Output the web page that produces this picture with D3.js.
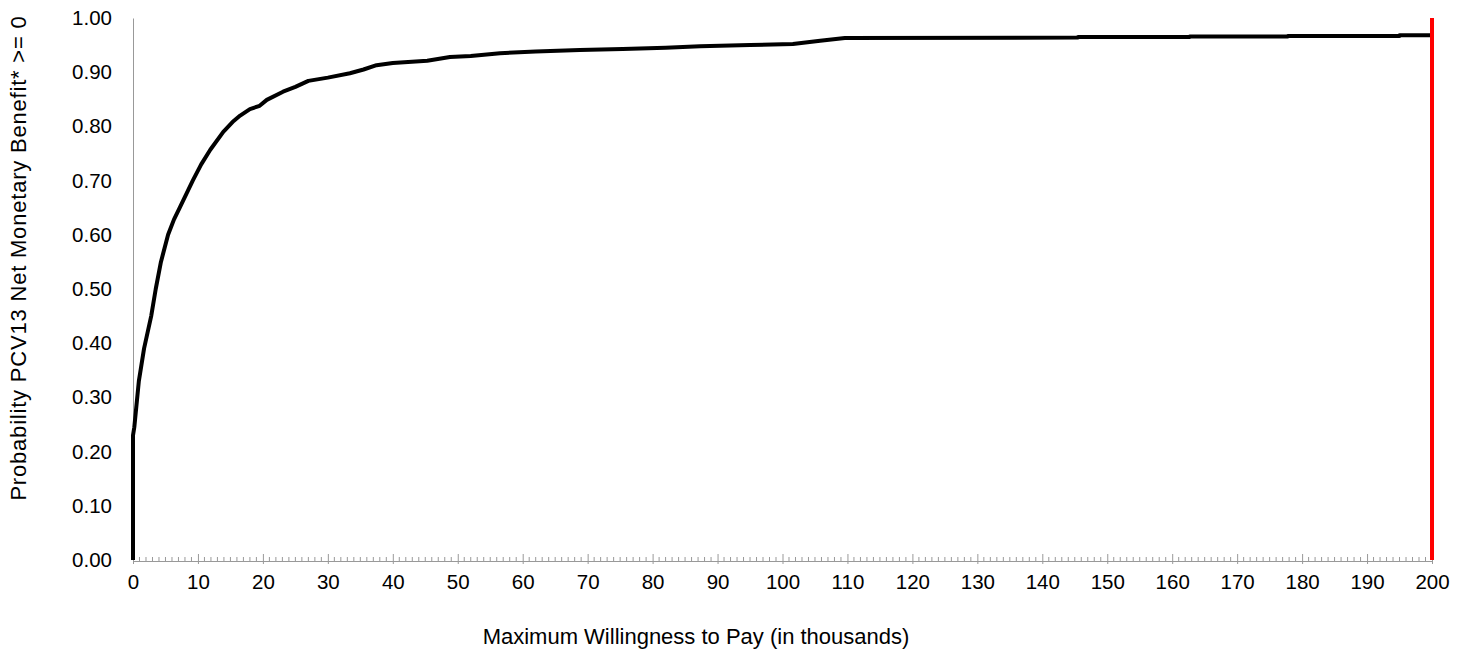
<!DOCTYPE html>
<html>
<head>
<meta charset="utf-8">
<script src="https://cdn.jsdelivr.net/npm/d3@7"></script>
<style>
  body { margin: 0; background: #fff; }
  svg text { font-family: "Liberation Sans", Arial, sans-serif; fill: #000; }
</style>
</head>
<body>
<div id="chart"></div>
<script>
// willingness to pay (thousands) and probability that net monetary benefit >= 0
const wtp = [0, 0, 0.2, 0.9, 1.7, 2.8, 3.5, 4.3, 5.4, 6.3, 7.2, 8.2, 9.2, 10.5, 11.9, 13.9, 15.5, 16.5, 18,
  19.5, 20.6, 23.1, 25, 27, 30, 33.4, 35.5, 37.5, 40, 45.3, 48.8, 52, 56.5, 62, 68.8, 75.4, 82, 87.3,
  95, 101.6, 105.8, 109.6, 145.5, 145.5, 162.7, 162.7, 177.8, 177.8, 195, 195, 200];
const prob = [0, 0.23, 0.245, 0.33, 0.39, 0.45, 0.50, 0.55, 0.60, 0.628, 0.65, 0.675, 0.70, 0.73, 0.757, 0.79, 0.81, 0.82, 0.832,
  0.838, 0.849, 0.864, 0.873, 0.884, 0.89, 0.898, 0.905, 0.913, 0.917, 0.921, 0.928, 0.93, 0.935, 0.938, 0.941, 0.943, 0.945, 0.948,
  0.950, 0.952, 0.958, 0.963, 0.964, 0.965, 0.965, 0.966, 0.966, 0.967, 0.967, 0.968, 0.968];
const xTicks = d3.range(0, 201, 10);
const yTicks = d3.range(0, 1.001, 0.1);
const thresholdWtp = 200;

const width = 1469, height = 650;
const margin = { top: 18, right: 37, bottom: 90, left: 133 };

const svg = d3.select('#chart').append('svg')
  .attr('width', width)
  .attr('height', height);

const x = d3.scaleLinear().domain([0, 200]).range([margin.left, width - margin.right]);
const y = d3.scaleLinear().domain([0, 1]).range([height - margin.bottom, margin.top]);

// y axis: line + labels, no tick marks
const yAxis = svg.append('g')
  .attr('transform', `translate(${margin.left},0)`)
  .call(d3.axisLeft(y).tickValues(yTicks).tickFormat(d3.format('.2f')).tickSize(0).tickPadding(21));
yAxis.select('.domain').attr('stroke', '#999').attr('stroke-width', 1);
yAxis.selectAll('text').attr('font-size', 20.5);

// x axis minor ticks (every 1 unit)
const axisY = y(0) + 1;
svg.append('g')
  .selectAll('line')
  .data(d3.range(0, 201, 1).filter(d => d % 10 !== 0))
  .join('line')
  .attr('x1', d => x(d)).attr('x2', d => x(d))
  .attr('y1', axisY - 4).attr('y2', axisY)
  .attr('stroke', '#999').attr('stroke-width', 1);

const xAxis = svg.append('g')
  .attr('transform', `translate(0,${axisY})`)
  .call(d3.axisBottom(x).tickValues(xTicks).tickFormat(d3.format('d')).tickSizeInner(3).tickSizeOuter(0).tickPadding(10));
xAxis.select('.domain').attr('stroke', '#999');
xAxis.selectAll('.tick line').attr('stroke', '#999').attr('y1', -7);
xAxis.selectAll('text').attr('font-size', 20.5);

// axis titles
svg.append('text')
  .attr('x', 696)
  .attr('y', 644)
  .attr('text-anchor', 'middle')
  .attr('font-size', 22)
  .text('Maximum Willingness to Pay (in thousands)');

svg.append('text')
  .attr('transform', `translate(26,258) rotate(-90)`)
  .attr('text-anchor', 'middle')
  .attr('font-size', 22)
  .attr('letter-spacing', 0.8)
  .text('Probability PCV13 Net Monetary Benefit* >= 0');

// acceptability curve
const line = d3.line()
  .x((d, i) => x(wtp[i]))
  .y((d, i) => y(prob[i]));

svg.append('path')
  .datum(prob)
  .attr('d', line)
  .attr('fill', 'none')
  .attr('stroke', '#000')
  .attr('stroke-width', 4)
  .attr('stroke-linejoin', 'round');

// threshold line
svg.append('line')
  .attr('x1', x(thresholdWtp)).attr('x2', x(thresholdWtp))
  .attr('y1', y(0)).attr('y2', y(1))
  .attr('stroke', '#f00')
  .attr('stroke-width', 4);
</script>
</body>
</html>
